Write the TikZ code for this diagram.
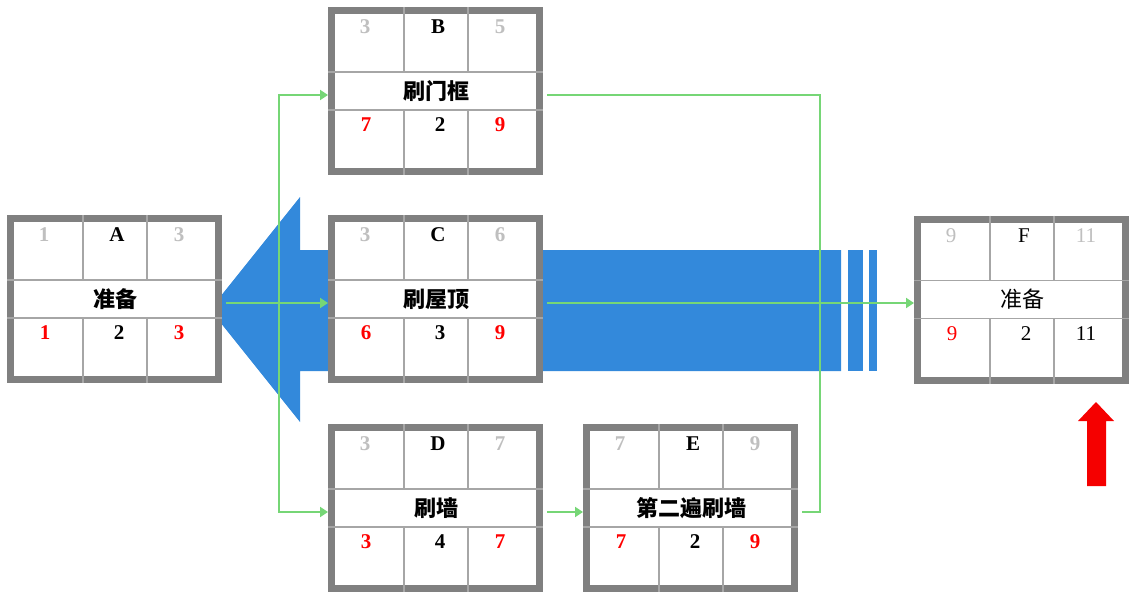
\documentclass[tikz,border=0pt]{standalone}
\usepackage{fontspec}
\setmainfont{Liberation Serif}
\newfontfamily\cjk{Noto Sans CJK SC}
\usetikzlibrary{arrows.meta, calc}

\definecolor{framegray}{RGB}{128,128,128}
\definecolor{gridgray}{RGB}{166,166,166}
\definecolor{slackgray}{RGB}{191,191,191}
\definecolor{linkgreen}{RGB}{118,214,118}
\definecolor{flowblue}{RGB}{51,137,219}
\definecolor{markred}{RGB}{245,0,0}

\begin{document}
\begin{tikzpicture}[x=1pt, y=-1pt,
    task/.style={draw=framegray, line width=7pt, fill=white, minimum width=208pt, minimum height=161pt, inner sep=0pt},
    grid/.style={draw=gridgray, line width=1.5pt},
    num/.style={inner sep=0pt},
    link/.style={-{Triangle[length=8pt, width=10pt]}, draw=linkgreen, line width=2pt},
    line/.style={draw=linkgreen, line width=2pt}
]
\useasboundingbox (0,0) rectangle (1141,599);

% Big blue arrow behind the boxes
\fill[flowblue] (210,309.5) -- (300,197) -- (300,250) -- (841,250) -- (841,371) -- (300,371) -- (300,422) -- cycle;
\fill[flowblue] (848,250) rectangle (863,371);
\fill[flowblue] (869,250) rectangle (877,371);

% Task boxes: name/x/y/early start/early finish/job/late start/duration/late finish/weight/colour
\foreach \n/\cx/\cy/\tes/\tef/\job/\tls/\dur/\tlf/\wt/\lc in {
    A/114.5/299/1/3/准备/1/2/3/\bfseries/red,
    B/435.5/91/3/5/刷门框/7/2/9/\bfseries/red,
    C/435.5/299/3/6/刷屋顶/6/3/9/\bfseries/red,
    D/435.5/508/3/7/刷墙/3/4/7/\bfseries/red,
    E/690.5/508/7/9/第二遍刷墙/7/2/9/\bfseries/red,
    F/1021.5/299.5/9/11/准备/9/2/11/\mdseries/black} {
  \node[task] (\n) at (\cx,\cy) {};
  \draw[grid] ($(\n.north west)+(0,65)$) -- ($(\n.north east)+(0,65)$);
  \draw[grid] ($(\n.north west)+(0,103)$) -- ($(\n.north east)+(0,103)$);
  \draw[grid] ($(\n.north west)+(76,0)$) -- ($(\n.north west)+(76,65)$);
  \draw[grid] ($(\n.north west)+(140,0)$) -- ($(\n.north west)+(140,65)$);
  \draw[grid] ($(\n.north west)+(76,103)$) -- ($(\n.south west)+(76,0)$);
  \draw[grid] ($(\n.north west)+(140,103)$) -- ($(\n.south west)+(140,0)$);
  % texts
  \node[num, text=slackgray, font=\fontsize{21}{21}\selectfont\wt] (\n-es) at ($(\n.north west)+(37,20)$) {\tes};
  \node[num, font=\fontsize{21}{21}\selectfont\wt] (\n-id) at ($(\n.north west)+(110,20)$) {\n};
  \node[num, text=slackgray, font=\fontsize{21}{21}\selectfont\wt] (\n-ef) at ($(\n.north west)+(172,20)$) {\tef};
  \node[num, font=\fontsize{22}{22}\selectfont\cjk\wt] (\n-job) at ($(\n.north west)+(108,84)$) {\job};
  \node[num, text=red, font=\fontsize{21}{21}\selectfont\wt] (\n-ls) at ($(\n.north west)+(38,118)$) {\tls};
  \node[num, font=\fontsize{21}{21}\selectfont\wt] (\n-dur) at ($(\n.north west)+(112,118)$) {\dur};
  \node[num, text=\lc, font=\fontsize{21}{21}\selectfont\wt] (\n-lf) at ($(\n.north west)+(172,118)$) {\tlf};
}

% Connectors, a little below the middle of each box
\coordinate (fork) at (279,303);
\coordinate (join) at (820,303);
\draw[link, shorten <=4pt] ($(A.east)+(0,4)$) -- ($(C.west)+(0,4)$);
\draw[link] (fork) |- ($(B.west)+(0,4)$);
\draw[link] (fork) |- ($(D.west)+(0,4)$);
\draw[link, shorten <=4pt] ($(D.east)+(0,4)$) -- ($(E.west)+(0,4)$);
\draw[link, shorten <=4pt] ($(C.east)+(0,4)$) -- ($(F.west)+(0,3.5)$);
\draw[line, shorten <=4pt] ($(B.east)+(0,4)$) -| (join);
\draw[line, shorten <=4pt] ($(E.east)+(0,4)$) -| (join);

% Red marker arrow
\fill[markred] (1096,402) -- (1114,421) -- (1106,421) -- (1106,486) -- (1087,486) -- (1087,421) -- (1078,421) -- cycle;

\end{tikzpicture}
\end{document}
